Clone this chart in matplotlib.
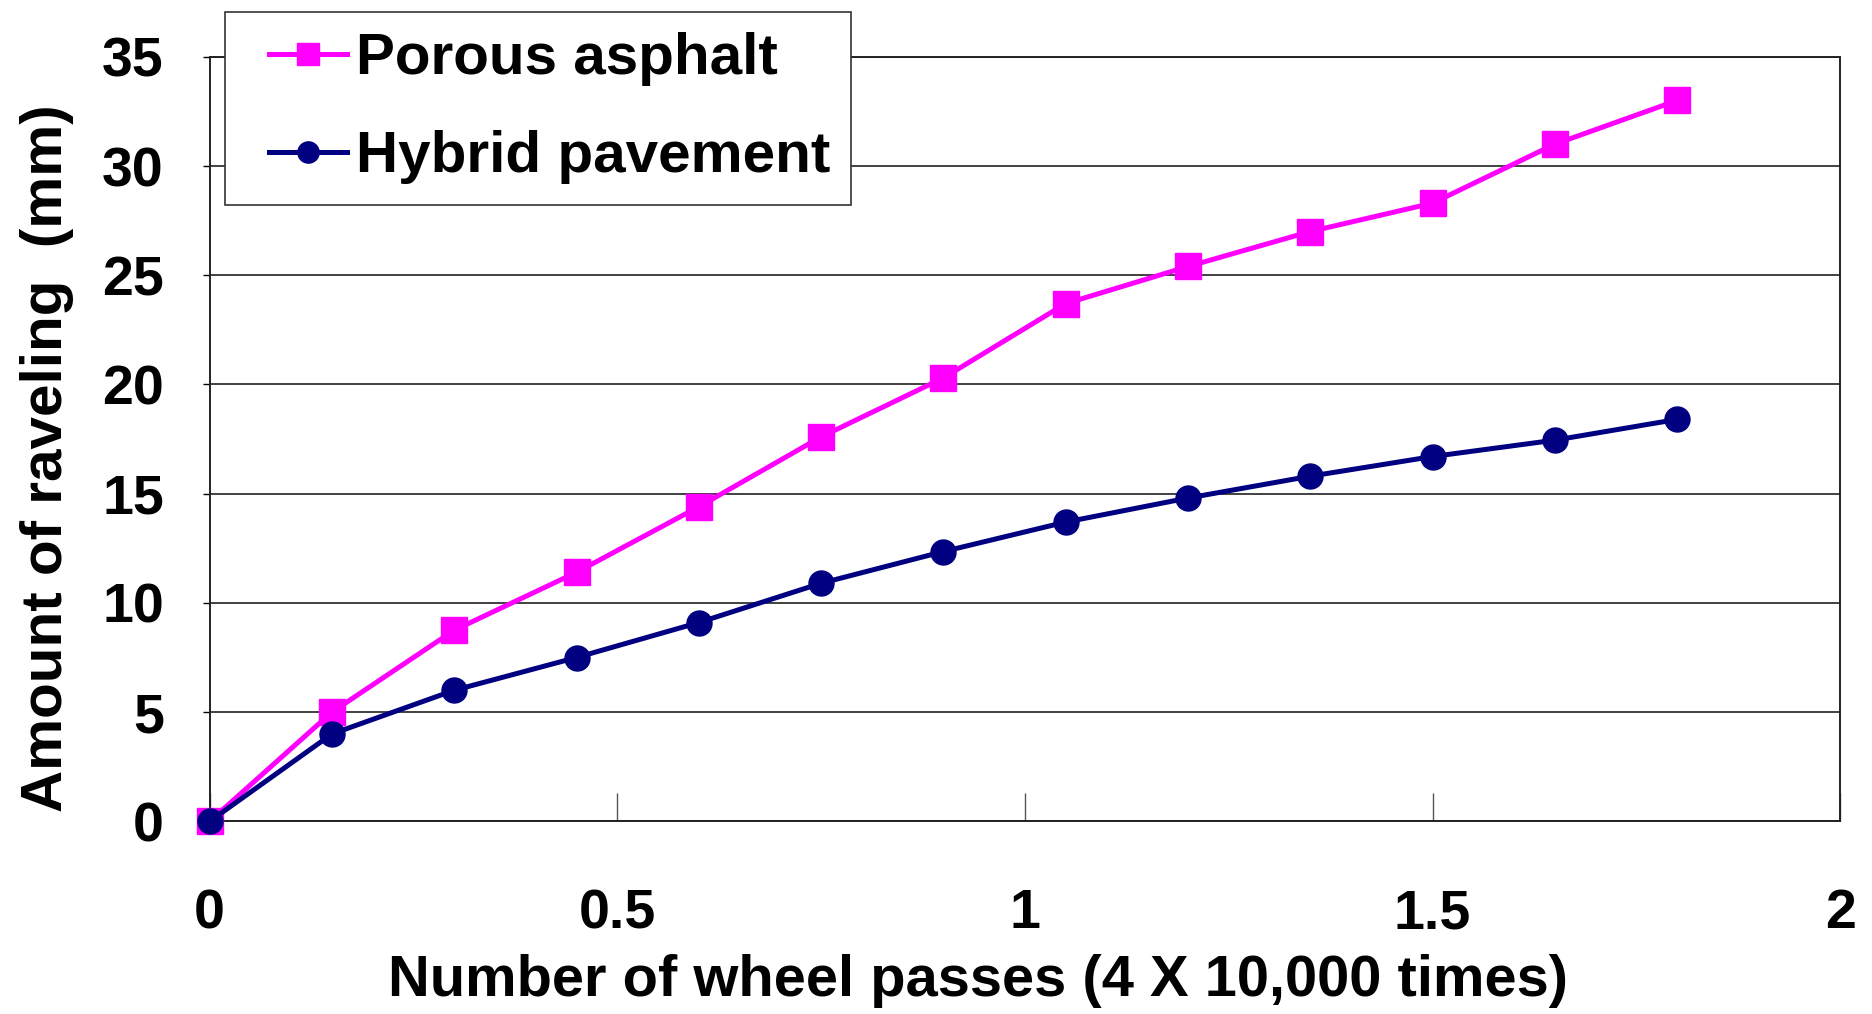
import matplotlib.pyplot as plt
from matplotlib.legend_handler import HandlerLine2D

passes = [0, 0.15, 0.3, 0.45, 0.6, 0.75, 0.9, 1.05, 1.2, 1.35, 1.5, 1.65, 1.8]
porous = [0, 5.0, 8.75, 11.4, 14.4, 17.6, 20.3, 23.7, 25.4, 27.0, 28.3, 31.0, 33.0]
hybrid = [0, 4.0, 6.0, 7.5, 9.1, 10.9, 12.35, 13.7, 14.8, 15.8, 16.7, 17.45, 18.4]

xticks = [0, 0.5, 1, 1.5, 2]
xticklabels = ["0", "0.5", "1", "1.5", "2"]
yticks = [0, 5, 10, 15, 20, 25, 30, 35]

font = "Liberation Sans"

fig = plt.figure(figsize=(18.72, 10.14), dpi=100)
ax = fig.add_axes([0.112, 0.19, 0.871, 0.754])

l1, = ax.plot(passes, porous, color="#FF00FF", lw=3.6, marker="s", ms=19,
              label="Porous asphalt", zorder=3, clip_on=False)
l2, = ax.plot(passes, hybrid, color="#000080", lw=3.6, marker="o", ms=18,
              label="Hybrid pavement", zorder=4, clip_on=False)

ax.set_xlim(0, 2)
ax.set_ylim(0, 35)
ax.set_xticks(xticks)
ax.set_xticklabels(xticklabels)
ax.set_yticks(yticks)
ax.grid(axis="y", color="#333333", lw=1.3)
ax.set_axisbelow(True)

for s in ax.spines.values():
    s.set_color("#222222")
    s.set_linewidth(1.4)

ax.tick_params(axis="x", direction="in", length=20, width=1, color="#555555",
               pad=48, labelsize=40)
ax.tick_params(axis="y", direction="out", length=5, width=1, pad=28, labelsize=40)
for lab in ax.get_xticklabels() + ax.get_yticklabels():
    lab.set_family(font)
    lab.set_fontweight("bold")

ax.set_xlabel("Number of wheel passes (4 X 10,000 times)", fontsize=41.7,
              fontweight="bold", family=font, labelpad=12)
ax.xaxis.set_label_coords(0.471, -0.173)
ax.set_ylabel("Amount of raveling  (mm)", fontsize=42, fontweight="bold",
              family=font, labelpad=14)
ax.yaxis.set_label_coords(-0.083, 0.475)

# short handles pushed in from the left edge of the box
hmap = {l1: HandlerLine2D(xpad=0.41), l2: HandlerLine2D(xpad=0.41)}
leg = fig.legend(handles=[l1, l2], loc="upper left", bbox_to_anchor=(0.1045, 1.017),
                 prop={"family": font, "weight": "bold", "size": 42},
                 frameon=True, fancybox=False, edgecolor="#333333",
                 framealpha=1, handlelength=1.74, handletextpad=0.16,
                 borderpad=0.35, labelspacing=0.75, markerscale=0.85,
                 handler_map=hmap)
leg.get_frame().set_linewidth(1.2)

fig.savefig("out.png", dpi=100)
